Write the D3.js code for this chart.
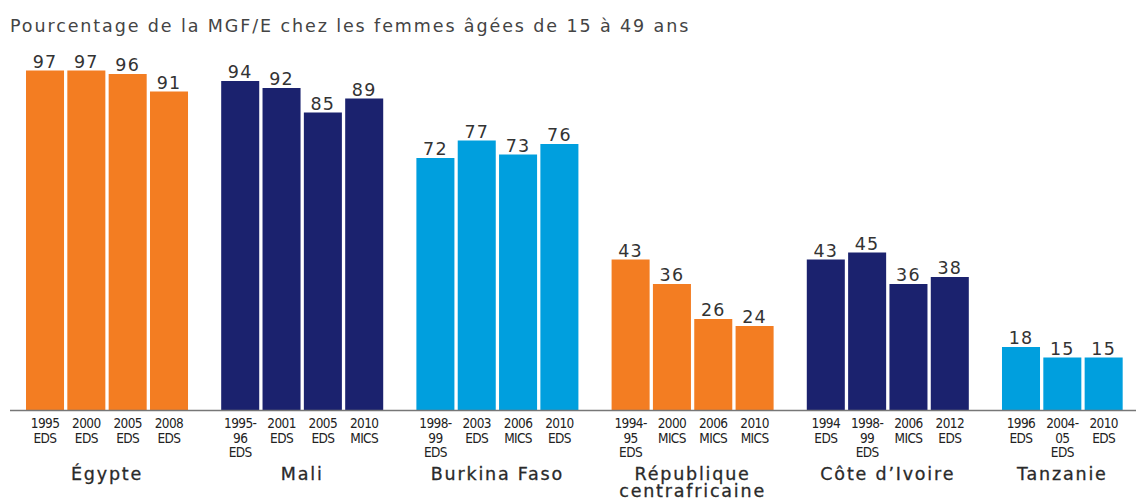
<!DOCTYPE html>
<html>
<head>
<meta charset="utf-8">
<script src="https://cdn.jsdelivr.net/npm/d3@7"></script>
<style>
  body { margin: 0; background: #fff; }
  text { font-family: "DejaVu Sans", "Noto Sans", sans-serif; }
  .tick { font-family: "Liberation Sans Narrow", "DejaVu Sans Condensed", sans-serif; }
</style>
</head>
<body>
<div class="chart"></div>
<script>
// declare global values
const WIDTH = 1136;
const HEIGHT = 499;
const BASE = 410;

// data
const countries = ["Égypte", "Mali", "Burkina Faso", "République centrafricaine", "Côte d’Ivoire", "Tanzanie"];
const countryLines = [["Égypte"], ["Mali"], ["Burkina Faso"], ["République", "centrafricaine"], ["Côte d’Ivoire"], ["Tanzanie"]];
const colors = ["#f37d22", "#1b226e", "#009fde", "#f37d22", "#1b226e", "#009fde"];
const egypte = [97, 97, 96, 91];
const mali = [94, 92, 85, 89];
const burkina = [72, 77, 73, 76];
const rca = [43, 36, 26, 24];
const civ = [43, 45, 36, 38];
const tanzanie = [18, 15, 15];
const surveys = [
  [["1995", "EDS"], ["2000", "EDS"], ["2005", "EDS"], ["2008", "EDS"]],
  [["1995-", "96", "EDS"], ["2001", "EDS"], ["2005", "EDS"], ["2010", "MICS"]],
  [["1998-", "99", "EDS"], ["2003", "EDS"], ["2006", "MICS"], ["2010", "EDS"]],
  [["1994-", "95", "EDS"], ["2000", "MICS"], ["2006", "MICS"], ["2010", "MICS"]],
  [["1994", "EDS"], ["1998-", "99", "EDS"], ["2006", "MICS"], ["2012", "EDS"]],
  [["1996", "EDS"], ["2004-", "05", "EDS"], ["2010", "EDS"]],
];
const values = [egypte, mali, burkina, rca, civ, tanzanie];

// scales
var x0 = d3.scaleBand().domain(d3.range(6)).range([26, 26 + 5 * 195.2 + 162]).paddingInner(0.17);
var x1 = d3.scaleBand().domain(d3.range(4)).range([0, x0.bandwidth()]).paddingInner(0.08);
var y = d3.scaleLinear().domain([0, 100]).range([BASE, BASE - 350]);

var svg = d3.select(".chart").append("svg")
  .attr("width", WIDTH)
  .attr("height", HEIGHT);

// title
svg.append("text")
  .attr("x", 10).attr("y", 32)
  .attr("font-size", 17.5)
  .attr("letter-spacing", 1.9)
  .attr("fill", "#444")
  .text("Pourcentage de la MGF/E chez les femmes âgées de 15 à 49 ans");

var groups = svg.selectAll(".grp")
  .data(values)
  .enter().append("g")
  .attr("class", "grp")
  .attr("transform", (d, i) => "translate(" + x0(i) + ",0)");

groups.each(function (vals, gi) {
  var g = d3.select(this);
  g.selectAll("rect")
    .data(vals)
    .enter().append("rect")
    .attr("x", (d, i) => x1(i))
    .attr("y", (d) => y(d))
    .attr("width", x1.bandwidth())
    .attr("height", (d) => y(0) - y(d))
    .attr("fill", colors[gi]);

  g.selectAll(".val")
    .data(vals)
    .enter().append("text")
    .attr("class", "val")
    .attr("x", (d, i) => x1(i) + x1.bandwidth() / 2)
    .attr("y", (d) => y(d) - 3)
    .attr("text-anchor", "middle")
    .attr("font-size", 17.5)
    .attr("letter-spacing", 1.2)
    .attr("fill", "#333")
    .text((d) => d);

  // survey tick labels
  g.selectAll(".tick")
    .data(surveys[gi])
    .enter().append("text")
    .attr("class", "tick")
    .attr("text-anchor", "middle")
    .attr("font-size", 13.5)
    .attr("letter-spacing", -0.6)
    .attr("fill", "#222")
    .each(function (lines, i) {
      d3.select(this).selectAll("tspan")
        .data(lines)
        .enter().append("tspan")
        .attr("x", x1(i) + x1.bandwidth() / 2)
        .attr("y", (l, j) => 428 + j * 14.5)
        .text((l) => l);
    });

  // country label, centred under its own bars
  var cx = (x1(0) + x1(vals.length - 1) + x1.bandwidth()) / 2;
  g.append("text")
    .attr("text-anchor", "middle")
    .attr("font-size", 17.5)
    .attr("letter-spacing", 1.8)
    .attr("fill", "#2a2a2a")
    .attr("stroke", "#2a2a2a")
    .attr("stroke-width", 0.3)
    .selectAll("tspan")
    .data(countryLines[gi])
    .enter().append("tspan")
    .attr("x", cx)
    .attr("y", (l, j) => 480 + j * 17)
    .text((l) => l);
});

// baseline
svg.append("line")
  .attr("x1", 10).attr("x2", WIDTH)
  .attr("y1", BASE + 0.5).attr("y2", BASE + 0.5)
  .attr("stroke", "#777")
  .attr("stroke-width", 1.5);
</script>
</body>
</html>
